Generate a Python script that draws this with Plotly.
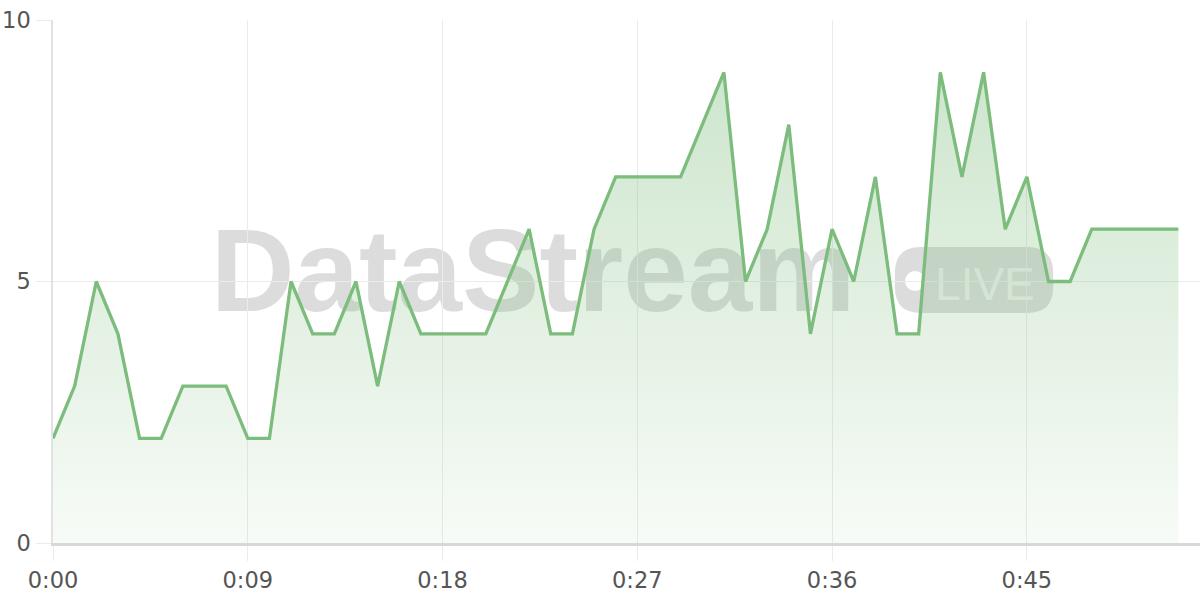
import plotly.graph_objects as go

# ---- data ----
seconds = list(range(53))
values = [2, 3, 5, 4, 2, 2, 3, 3, 3, 2,
          2, 5, 4, 4, 5, 3, 5, 4, 4, 4,
          4, 5, 6, 4, 4, 6, 7, 7, 7, 7,
          8, 9, 5, 6, 8, 4, 6, 5, 7, 4,
          4, 9, 7, 9, 6, 7, 5, 5, 6, 6,
          6, 6, 6]
x_tickvals = [0, 9, 18, 27, 36, 45]
x_ticktext = ["0:00", "0:09", "0:18", "0:27", "0:36", "0:45"]
y_tickvals = [0, 5, 10]
y_ticktext = ["0", "5", "10"]

LINE = "rgb(124,188,124)"
GRID = "#ebebeb"
TEXT = "#555555"
WM = "rgba(110,110,110,0.24)"

fig = go.Figure()
fig.add_trace(go.Scatter(
    x=seconds, y=values, mode="lines",
    line=dict(color=LINE, width=3.3),
    fill="tozeroy",
    fillgradient=dict(
        type="vertical",
        colorscale=[[0, "rgba(124,188,124,0.06)"], [1, "rgba(124,188,124,0.38)"]],
    ),
    hoverinfo="skip",
))

# ---- watermark (decoration, drawn below the data) ----
PW, PH = 1147, 523
x0, x1, y0, y1 = 0.734, 0.872, 0.440, 0.566
rx, ry = 26 / PW, 26 / PH
badge = (f"M {x0+rx},{y0} L {x1-rx},{y0} Q {x1},{y0} {x1},{y0+ry} "
         f"L {x1},{y1-ry} Q {x1},{y1} {x1-rx},{y1} L {x0+rx},{y1} "
         f"Q {x0},{y1} {x0},{y1-ry} L {x0},{y0+ry} Q {x0},{y0} {x0+rx},{y0} Z")
shapes = [
    dict(type="path", path=badge, xref="paper", yref="paper", layer="below",
         fillcolor=WM, line=dict(width=0)),
    dict(type="circle", xref="paper", yref="paper", layer="below",
         x0=0.7515 - 10 / PW, x1=0.7515 + 10 / PW,
         y0=0.501 - 10 / PH, y1=0.501 + 10 / PH,
         fillcolor="white", line=dict(width=0)),
    dict(type="rect", xref="paper", yref="paper", layer="below",
         x0=0.76, x1=0.865, y0=0.45, y1=0.556, line=dict(width=0),
         fillcolor="rgba(0,0,0,0)",
         label=dict(text="LIVE", textposition="middle center",
                    font=dict(family="Liberation Sans", size=46,
                              color="rgba(255,255,255,0.6)"))),
    dict(type="rect", xref="paper", yref="paper", layer="below",
         x0=0.093, x1=0.744, y0=0.424, y1=0.660, line=dict(width=0),
         fillcolor="rgba(0,0,0,0)",
         label=dict(text="DataStream", textposition="middle center",
                    font=dict(family="Liberation Sans", size=116,
                              color=WM, weight="bold"))),
]

fig.update_layout(
    width=1200, height=600,
    margin=dict(l=53, r=0, t=20, b=57),
    paper_bgcolor="white",
    plot_bgcolor="rgba(0,0,0,0)",
    showlegend=False,
    shapes=shapes,
    font=dict(family="DejaVu Sans", size=22.5, color=TEXT),
    xaxis=dict(
        range=[0, 53], tickvals=x_tickvals, ticktext=x_ticktext,
        showgrid=True, gridcolor=GRID, gridwidth=1.3,
        ticks="outside", ticklen=15, tickcolor=GRID, tickwidth=1.3,
        showline=True, linecolor="#d8d8d8", linewidth=2.5,
        zeroline=False, ticklabelstandoff=0, fixedrange=True,
        automargin=False, ticklabeloverflow="allow",
    ),
    yaxis=dict(
        range=[0, 10], tickvals=y_tickvals, ticktext=y_ticktext,
        showgrid=True, gridcolor=GRID, gridwidth=1.3,
        ticks="outside", ticklen=15, tickcolor=GRID, tickwidth=1.3,
        showline=True, linecolor="#e2e2e2", linewidth=1.5,
        zeroline=False, ticklabelstandoff=1, fixedrange=True,
        automargin=False, ticklabeloverflow="allow",
    ),
)

fig.write_html(
    "out.html",
    config={"displayModeBar": False},
    post_script="document.body.style.margin='0';document.body.style.overflow='hidden';",
)
